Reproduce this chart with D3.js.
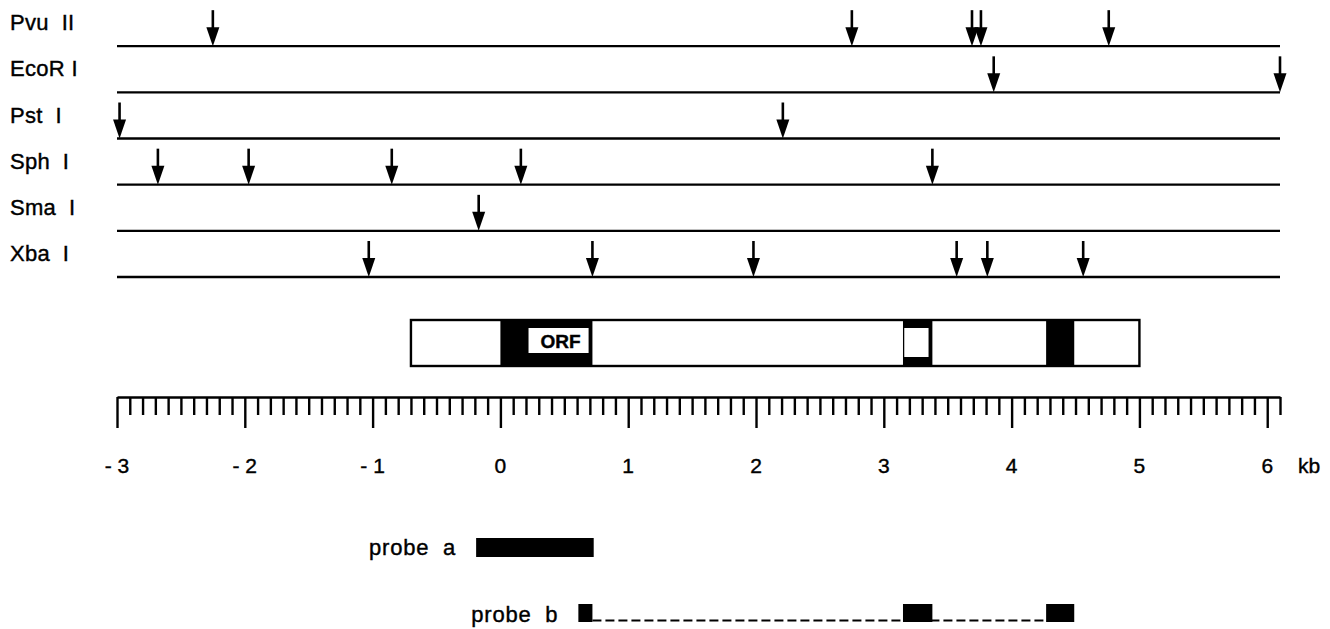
<!DOCTYPE html>
<html>
<head>
<meta charset="utf-8">
<script src="https://cdn.jsdelivr.net/npm/d3@7"></script>
<style>
  body { margin: 0; background: #fff; }
  text { font-family: "Liberation Sans", Arial, sans-serif; fill: #000; stroke: #000; stroke-width: 0.4px; }
</style>
</head>
<body>
<div id="map"></div>
<script>
// enzymes and their cut sites (kb)
var enzymes = ["Pvu  II", "EcoR I", "Pst  I", "Sph  I", "Sma  I", "Xba  I"];
var pvuSites = [-2.25, 2.75, 3.69, 3.76, 4.76];
var ecoSites = [3.86, 6.1];
var pstSites = [-2.98, 2.21];
var sphSites = [-2.68, -1.97, -0.85, 0.16, 3.38];
var smaSites = [-0.17];
var xbaSites = [-1.03, 0.72, 1.98, 3.57, 3.81, 4.56];
var sites = [pvuSites, ecoSites, pstSites, sphSites, smaSites, xbaSites];

// gene box
var geneSpan = [-0.7, 5.0];
var exons = [[0, 0.72], [3.15, 3.38], [4.27, 4.49]];
var orfLabel = [0.22, 0.69];
var exon2Hole = [3.16, 3.35];

// probes
var probeA = [-0.19, 0.73];
var probeB = [[0.61, 0.72], [3.15, 3.38], [4.27, 4.49]];

// ruler
var majorTicks = [-3, -2, -1, 0, 1, 2, 3, 4, 5, 6];
var tickLabels = ["- 3", "- 2", "- 1", "0", "1", "2", "3", "4", "5", "6"];

var width = 1330, height = 629;

var svg = d3.select("#map").append("svg")
  .attr("width", width)
  .attr("height", height);

var x = d3.scaleLinear().domain([-3, 6.1]).range([117, 1280]);
var y = d3.scaleBand().domain(enzymes).range([0, 277]);
var lineY = function(e) { return y(e) + y.bandwidth(); };

// restriction rows
var rows = svg.selectAll("g.row")
  .data(enzymes)
  .enter().append("g")
  .attr("class", "row")
  .attr("transform", function(d) { return "translate(0," + lineY(d) + ")"; });

rows.append("text")
  .attr("x", 10)
  .attr("y", -16)
  .style("font-size", "22px")
  .style("letter-spacing", "0.3px")
  .style("white-space", "pre")
  .text(function(d) { return d; });

rows.append("line")
  .attr("x1", x(-3)).attr("x2", x(6.1))
  .attr("stroke", "#000").attr("stroke-width", 2.4);

rows.each(function(d, i) {
  var g = d3.select(this);
  var a = g.selectAll("g.arrow")
    .data(sites[i])
    .enter().append("g")
    .attr("class", "arrow")
    .attr("transform", function(s) { return "translate(" + x(s) + ",0)"; });
  a.append("line")
    .attr("y1", -36).attr("y2", -16)
    .attr("stroke", "#000").attr("stroke-width", 2.6);
  a.append("path")
    .attr("d", "M-6.5,-19L6.5,-19L0,0Z")
    .attr("fill", "#000");
});

// gene structure
var boxTop = 320, boxH = 46;
svg.append("rect")
  .attr("x", x(geneSpan[0])).attr("y", boxTop)
  .attr("width", x(geneSpan[1]) - x(geneSpan[0])).attr("height", boxH)
  .attr("fill", "#fff").attr("stroke", "#000").attr("stroke-width", 2.4);

svg.selectAll("rect.exon")
  .data(exons)
  .enter().append("rect")
  .attr("class", "exon")
  .attr("x", function(d) { return x(d[0]); })
  .attr("y", boxTop)
  .attr("width", function(d) { return x(d[1]) - x(d[0]); })
  .attr("height", boxH)
  .attr("fill", "#000");

svg.append("rect")
  .attr("x", x(exon2Hole[0])).attr("y", boxTop + 8)
  .attr("width", x(exon2Hole[1]) - x(exon2Hole[0])).attr("height", boxH - 17)
  .attr("fill", "#fff");

svg.append("rect")
  .attr("x", x(orfLabel[0])).attr("y", boxTop + 8)
  .attr("width", x(orfLabel[1]) - x(orfLabel[0])).attr("height", 25)
  .attr("fill", "#fff");

svg.append("text")
  .attr("x", (x(orfLabel[0]) + x(orfLabel[1])) / 2 + 2)
  .attr("y", boxTop + 28)
  .attr("text-anchor", "middle")
  .style("font-size", "19px").style("font-weight", "bold")
  .text("ORF");

// ruler
var minorTicks = d3.range(-30, 62).map(function(i) { return i / 10; });
var ruler = svg.append("g")
  .attr("transform", "translate(0,397)")
  .call(d3.axisBottom(x).tickValues(minorTicks).tickSize(18).tickSizeOuter(0).tickFormat(""));
ruler.select(".domain").attr("stroke-width", 2.4);
ruler.selectAll(".tick line")
  .attr("stroke-width", 2.4)
  .attr("y2", function(d) { return Math.abs(d - Math.round(d)) < 1e-6 ? 31 : 18; });

svg.selectAll("text.tl")
  .data(majorTicks)
  .enter().append("text")
  .attr("class", "tl")
  .attr("x", function(d) { return x(d); })
  .attr("y", 473)
  .attr("text-anchor", "middle")
  .style("font-size", "21px")
  .style("white-space", "pre")
  .text(function(d, i) { return tickLabels[i]; });

svg.append("text")
  .attr("x", 1298).attr("y", 473)
  .style("font-size", "21px")
  .text("kb");

// probes
svg.append("text")
  .attr("x", x(probeA[0]) - 20).attr("y", 555)
  .attr("text-anchor", "end")
  .style("font-size", "22px")
  .style("letter-spacing", "0.8px")
  .style("white-space", "pre")
  .text("probe  a");
svg.append("rect")
  .attr("x", x(probeA[0])).attr("y", 538)
  .attr("width", x(probeA[1]) - x(probeA[0])).attr("height", 19)
  .attr("fill", "#000");

svg.append("text")
  .attr("x", x(probeB[0][0]) - 20).attr("y", 622)
  .attr("text-anchor", "end")
  .style("font-size", "22px")
  .style("letter-spacing", "0.8px")
  .style("white-space", "pre")
  .text("probe  b");
svg.append("line")
  .attr("x1", x(probeB[0][1])).attr("x2", x(probeB[probeB.length - 1][0]))
  .attr("y1", 620.5).attr("y2", 620.5)
  .attr("stroke", "#000").attr("stroke-width", 2)
  .attr("stroke-dasharray", "9,4");
svg.selectAll("rect.pb")
  .data(probeB)
  .enter().append("rect")
  .attr("class", "pb")
  .attr("x", function(d) { return x(d[0]); })
  .attr("y", 604)
  .attr("width", function(d) { return x(d[1]) - x(d[0]); })
  .attr("height", 18)
  .attr("fill", "#000");
</script>
</body>
</html>
